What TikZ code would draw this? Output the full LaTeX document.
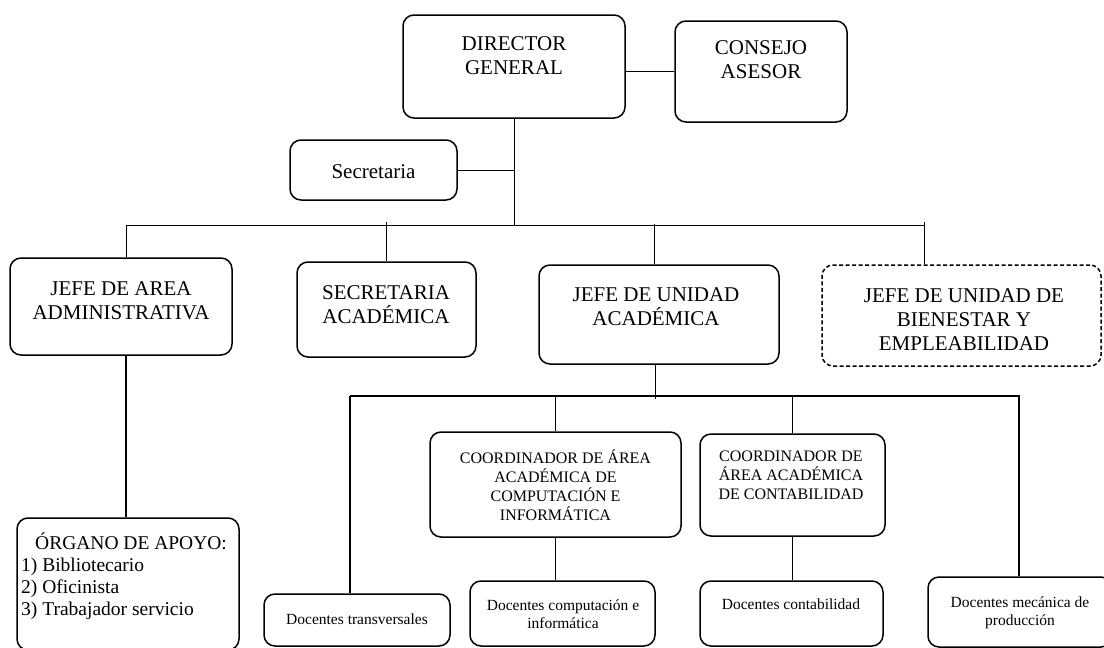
\documentclass[tikz,border=0pt]{standalone}
\usepackage{fontspec}
\setmainfont{Liberation Serif}
\begin{document}
\begin{tikzpicture}[x=1pt,y=-1pt,
  box/.style={draw, rounded corners=11pt, line width=1.5pt, inner sep=0pt},
  dbox/.style={box, dash pattern=on 4pt off 2.5pt},
  big/.style={align=center, inner sep=0pt, font=\fontsize{21}{24}\selectfont},
  mid/.style={align=center, inner sep=0pt, font=\fontsize{16}{19}\selectfont},
  small/.style={align=center, inner sep=0pt, font=\fontsize{15.5}{18}\selectfont},
  conn/.style={line width=1pt},
  conn2/.style={line width=1.5pt},
  bus/.style={line width=2pt}]
\useasboundingbox (0,0) rectangle (1104,648);

% boxes
\node[box, minimum width=222pt, minimum height=103pt] (dg) at (514,66.5) {};
\node[box, minimum width=172pt, minimum height=101pt] (ca) at (761,71.5) {};
\node[box, minimum width=167pt, minimum height=60pt] (sec) at (373.5,170) {};
\node[box, minimum width=222pt, minimum height=97pt] (jaa) at (121,306.5) {};
\node[box, minimum width=179pt, minimum height=95pt] (sa) at (386.5,309.5) {};
\node[box, minimum width=240pt, minimum height=99pt] (jua) at (659,314.5) {};
\node[dbox, minimum width=279pt, minimum height=101pt] (jube) at (961.5,315.5) {};
\node[box, minimum width=222pt, minimum height=132pt] (org) at (128,584) {};
\node[box, minimum width=251pt, minimum height=105pt] (cci) at (555.5,484.5) {};
\node[box, minimum width=185pt, minimum height=102pt] (ccont) at (792.5,485) {};
\node[box, minimum width=186pt, minimum height=52pt] (dt) at (357,620) {};
\node[box, minimum width=185pt, minimum height=65pt] (dci) at (562.5,613.5) {};
\node[box, minimum width=183pt, minimum height=65pt] (dcont) at (791.5,613.5) {};
\node[box, minimum width=184pt, minimum height=70pt] (dmp) at (1020,612) {};

% texts
\node[big] (dgt) at (514,56) {DIRECTOR\\GENERAL};
\node[big] (cat) at (761,60) {CONSEJO\\ASESOR};
\node[big] (sect) at (373.5,172) {Secretaria};
\node[big] (jaat) at (121,301) {JEFE DE AREA\\ADMINISTRATIVA};
\node[big] (sat) at (386,305) {SECRETARIA\\ACADÉMICA};
\node[big] (juat) at (656,307) {JEFE DE UNIDAD\\ACADÉMICA};
\node[big] (jubet) at (964,320) {JEFE DE UNIDAD DE\\BIENESTAR Y\\EMPLEABILIDAD};
\node[anchor=north west, align=left, inner sep=0pt, font=\fontsize{19.5}{21.7}\selectfont] (orgt) at (21,533)
  {\hspace*{14pt}ÓRGANO DE APOYO:\\1) Bibliotecario\\2) Oficinista\\3) Trabajador servicio};
\node[mid] (ccit) at (555.5,485) {COORDINADOR DE ÁREA\\ACADÉMICA DE\\COMPUTACIÓN E\\INFORMÁTICA};
\node[mid] (ccontt) at (791,475.5) {COORDINADOR DE\\ÁREA ACADÉMICA\\DE CONTABILIDAD};
\node[small] (dtt) at (357,619) {Docentes transversales};
\node[small] (dcit) at (563,614) {Docentes computación e\\informática};
\node[small] (dcontt) at (791,604) {Docentes contabilidad};
\node[small] (dmpt) at (1020,613) {Docentes mecánica de\\producción};

% upper connectors
\coordinate (busL) at (126,225);
\coordinate (busR) at (924,225);
\coordinate (hub) at (514,225);
\coordinate (d3) at (654,225);
\draw[conn] (dg.south) -- (hub);
\draw[conn] (sec.east) -- (sec.east -| hub);
\draw[conn] (dg.east |- ca.west) -- (ca.west);
\draw[conn] (busL) -- (busR);
\draw[conn] (busL) -- (busL |- jaa.north);
\draw[conn] ([yshift=3pt]sa.north |- busL) -- (sa.north);
\draw[conn] ([yshift=1pt]d3) -- (d3 |- jua.north);
\draw[conn] ([yshift=3pt]busR) -- (busR |- jube.north);
\draw[conn2] (busL |- jaa.south) -- (busL |- org.north);

% lower connectors
\coordinate (lbL) at (350,396);
\coordinate (lbR) at (1020,396);
\coordinate (lhub) at (655,396);
\coordinate (d4) at (1019,396);
\draw[conn] (lhub |- jua.south) -- ([yshift=-3pt]lhub);
\draw[bus] (lbL) -- (lbR);
\draw[conn2] (lbL) -- (lbL |- dt.north);
\draw[conn2] (cci.north |- lbL) -- (cci.north);
\draw[conn2] (ccont.north |- lbL) -- (ccont.north);
\draw[conn2] (d4) -- (d4 |- dmp.north);
\draw[conn2] (cci.south) -- (cci.south |- dci.north);
\draw[conn2] (ccont.south) -- (ccont.south |- dcont.north);
\end{tikzpicture}
\end{document}
